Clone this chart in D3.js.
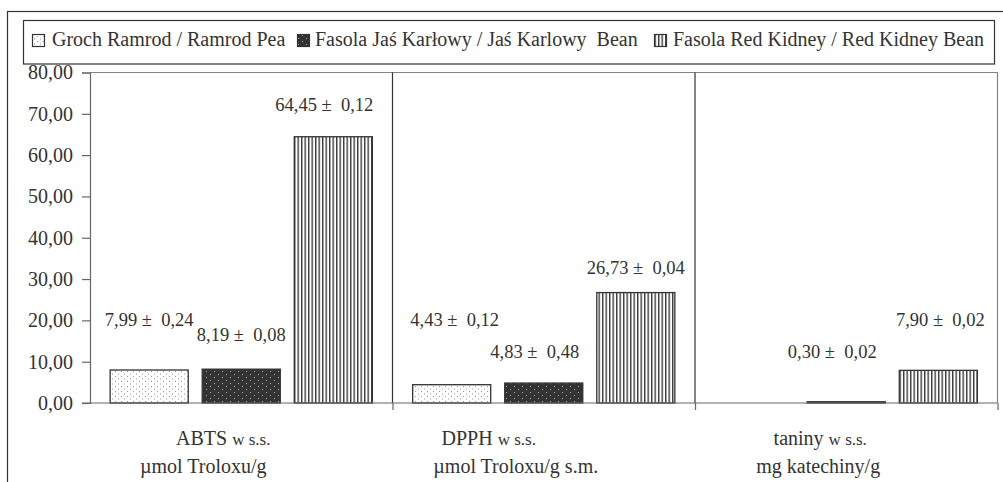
<!DOCTYPE html>
<html><head><meta charset="utf-8">
<script src="https://cdn.jsdelivr.net/npm/d3@7"></script>
<style>
html,body{margin:0;padding:0;background:#fff;}
</style></head>
<body><svg id="c" width="1003" height="482"></svg>
<script>
// ---- data ----
const categories = ["ABTS", "DPPH", "taniny"];
const catLine1Main = ["ABTS", "DPPH", "taniny"];
const catLine1Small = ["w s.s.", "w s.s.", "w s.s."];
const catLine2 = ["\u00b5mol Troloxu/g", "\u00b5mol Troloxu/g s.m.", "mg katechiny/g"];
const seriesNames = ["Groch Ramrod / Ramrod Pea", "Fasola Ja\u015b Kar\u0142owy / Ja\u015b Karlowy  Bean", "Fasola Red Kidney / Red Kidney Bean"];
const grochValues = [7.99, 4.43, null];
const jasValues = [8.19, 4.83, 0.30];
const redValues = [64.45, 26.73, 7.90];
const grochSD = [0.24, 0.12, null];
const jasSD = [0.08, 0.48, 0.02];
const redSD = [0.12, 0.04, 0.02];
const yTickValues = [0, 10, 20, 30, 40, 50, 60, 70, 80];

// ---- layout (label placement, in data units / px offsets) ----
const labelLevel = [[18.7, 14.9, 70.6], [18.7, 10.9, 31.3], [null, 10.9, 18.7]];
const labelDx = [[0, 0, -9], [3, -9, 0], [0, -14, 2]];
const catDx1 = [-18, -55, -26];
const catDx2 = [-38, -28, -28];
const legSwatchX = [32, 297, 654];
const legTextX = [52, 315, 673];
const FONT = '"Liberation Serif", "Times New Roman", serif';
const INK = "#333";

const values = [grochValues, jasValues, redValues];
const sds = [grochSD, jasSD, redSD];
const fmt = v => v.toFixed(2).replace(".", ",");

const svg = d3.select("#c");
const defs = svg.append("defs");
// patterns
const p0 = defs.append("pattern").attr("id","pat0").attr("patternUnits","userSpaceOnUse").attr("width",6).attr("height",5);
p0.append("rect").attr("width",6).attr("height",5).attr("fill","#fff");
p0.append("rect").attr("x",1).attr("y",1).attr("width",1).attr("height",1).attr("fill","#9a9a9a");
p0.append("rect").attr("x",4).attr("y",3.5).attr("width",1).attr("height",1).attr("fill","#9a9a9a");
const p1 = defs.append("pattern").attr("id","pat1").attr("patternUnits","userSpaceOnUse").attr("width",8).attr("height",6);
p1.append("rect").attr("width",8).attr("height",6).attr("fill","#333");
p1.append("rect").attr("x",2).attr("y",2).attr("width",1).attr("height",1).attr("fill","#aaa");
p1.append("rect").attr("x",6).attr("y",5).attr("width",1).attr("height",1).attr("fill","#aaa");
const p2 = defs.append("pattern").attr("id","pat2").attr("patternUnits","userSpaceOnUse").attr("width",3.5).attr("height",4);
p2.append("rect").attr("width",3.5).attr("height",4).attr("fill","#fff");
p2.append("rect").attr("x",0).attr("y",0).attr("width",1.4).attr("height",4).attr("fill","#3a3a3a");
const fills = ["url(#pat0)","url(#pat1)","url(#pat2)"];

// outer border
svg.append("rect").attr("x",7.5).attr("y",11.5).attr("width",1010).attr("height",480)
  .attr("fill","none").attr("stroke","#333").attr("stroke-width",1.2);

const pLeft = 90, pRight = 997.5, pTop = 72.5, pBottom = 403;
const x0 = d3.scaleBand().domain(categories).range([pLeft, pRight]).padding(0);
const x1 = d3.scaleBand().domain(d3.range(3)).range([0, x0.bandwidth()]).paddingInner(0.152).paddingOuter(0.219);
const y = d3.scaleLinear().domain([0, 80]).range([pBottom, pTop]);

// plot area border (top/right)
svg.append("path").attr("d", `M${pLeft},${pTop}H${pRight}V${pBottom}`).attr("fill","none").attr("stroke","#8a8080").attr("stroke-width",1.2);

// separators
categories.slice(1).forEach(c => {
  svg.append("line").attr("x1", x0(c)).attr("x2", x0(c)).attr("y1", pTop).attr("y2", pBottom)
    .attr("stroke","#333").attr("stroke-width",1.2);
});

// bars
categories.forEach((c, ci) => {
  values.forEach((arr, si) => {
    const v = arr[ci];
    if (v == null) return;
    svg.append("rect").attr("x", x0(c) + x1(si)).attr("y", y(v))
      .attr("width", x1.bandwidth()).attr("height", y(0) - y(v))
      .attr("fill", fills[si]).attr("stroke","#333").attr("stroke-width",1.3);
  });
});

// y axis
const yAxis = svg.append("g").attr("transform", `translate(${pLeft},0)`)
  .call(d3.axisLeft(y).tickValues(yTickValues).tickFormat(fmt).tickSize(8).tickPadding(9));
yAxis.attr("font-family", null).attr("font-size", null);
yAxis.select(".domain").attr("stroke","#6b6464").attr("stroke-width",1.2);
yAxis.selectAll(".tick line").attr("stroke","#6b6464").attr("stroke-width",1.2);
yAxis.selectAll("text").style("font-size", "20px").style("font-family", FONT).attr("fill", INK);

// x axis
const xAxis = svg.append("g").attr("transform", `translate(0,${pBottom})`)
  .call(d3.axisBottom(d3.scaleLinear().domain([0,3]).range([pLeft, pRight])).tickValues([0,1,2,3]).tickSize(7).tickFormat(""));
xAxis.select(".domain").attr("d", `M${pLeft-8},0H${pRight}`).attr("stroke","#6b6464").attr("stroke-width",1.2);
xAxis.selectAll(".tick line").attr("stroke","#6b6464").attr("stroke-width",1.2);
xAxis.selectAll(".tick").filter(d => d === 0).remove();

// data labels
categories.forEach((c, ci) => {
  values.forEach((arr, si) => {
    const v = arr[ci];
    if (v == null) return;
    svg.append("text").attr("x", x0(c) + x1(si) + x1.bandwidth()/2 + labelDx[ci][si])
      .attr("y", y(labelLevel[ci][si])).attr("text-anchor","middle")
      .style("font-size", "18.5px").style("font-family", FONT).style("white-space", "pre").attr("fill", INK)
      .text(fmt(v) + " \u00b1  " + fmt(sds[si][ci]));
  });
});

// category labels
categories.forEach((c, ci) => {
  const cx = x0(c) + x0.bandwidth()/2;
  const t = svg.append("text").attr("x", cx + catDx1[ci]).attr("y", 445).attr("text-anchor","middle")
    .style("font-family", FONT).style("white-space", "pre").attr("fill", INK);
  t.append("tspan").style("font-size", "20px").text(catLine1Main[ci] + " ");
  t.append("tspan").style("font-size", "17px").text(catLine1Small[ci]);
  svg.append("text").attr("x", cx + catDx2[ci]).attr("y", 473).attr("text-anchor","middle")
    .style("font-size", "20px").style("font-family", FONT).attr("fill", INK).text(catLine2[ci]);
});

// legend
svg.append("rect").attr("x", 23.5).attr("y", 20.5).attr("width", 971).attr("height", 43.5)
  .attr("fill","#fff").attr("stroke","#333").attr("stroke-width",1.2);
seriesNames.forEach((n, i) => {
  svg.append("rect").attr("x", legSwatchX[i] + 0.5).attr("y", 34.5).attr("width", 12).attr("height", 12)
    .attr("fill", fills[i]).attr("stroke","#333").attr("stroke-width",1.2);
  svg.append("text").attr("x", legTextX[i]).attr("y", 46).style("font-size", "20px")
    .style("font-family", FONT).style("white-space", "pre").attr("fill", INK).text(n);
});
</script></body></html>
